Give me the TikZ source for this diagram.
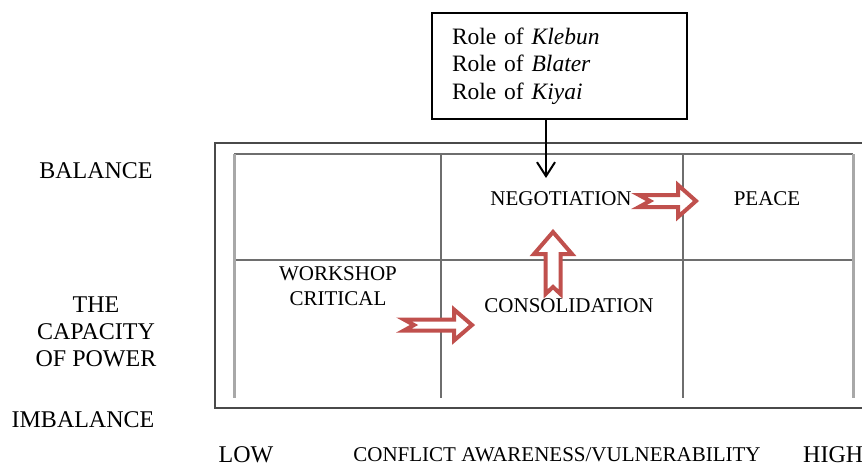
\documentclass[tikz,border=0pt]{standalone}
\usepackage{fontspec}
\setmainfont{Liberation Serif}
\usetikzlibrary{arrows.meta}

\definecolor{arrowred}{HTML}{C0504D}
\definecolor{framegray}{HTML}{4A4A4A}
\definecolor{gridgray}{HTML}{6E6E6E}
\definecolor{sidegray}{HTML}{A8A8A8}

\newcommand{\bigfont}{\fontsize{24}{27}\selectfont}
\newcommand{\cellfont}{\fontsize{21}{25}\selectfont}

\tikzset{
  biglabel/.style={font=\bigfont, inner sep=0pt},
  celllabel/.style={font=\cellfont, inner sep=0pt},
  gridline/.style={draw=gridgray, line width=1.6pt},
  sideline/.style={draw=sidegray, line width=3pt},
  redarrow/.style={draw=arrowred, fill=white, line width=4pt, line join=miter},
  % notched block arrow pointing along +x from its tail:
  % {length}{shaft half width}{head half width}{head length}{notch depth}
  pics/notched/.style n args={5}{code={
    \draw[redarrow, pic actions] (0,-#2) -- ({#1-#4},-#2) -- ({#1-#4},-#3) -- (#1,0)
      -- ({#1-#4},#3) -- ({#1-#4},#2) -- (0,#2) -- (#5,0) -- cycle;
  }},
}

\begin{document}
\begin{tikzpicture}[x=1pt, y=-1pt]
  \useasboundingbox (0,0) rectangle (862,467);
  \clip (0,0) rectangle (862,467);

  % outer frame (runs past the right edge)
  \draw[framegray, line width=1.5pt] (215,143) rectangle (900,408);

  % matrix grid
  \draw[gridline] (234,154) -- (853,154);
  \draw[gridline] (234,260) -- (853,260);
  \draw[sideline] (234,154) -- (234,398);
  \draw[sideline] (853,154) -- (853,398);
  \draw[gridline] (441,154) -- (441,398);
  \draw[gridline] (683,154) -- (683,398);

  % vertical axis labels
  \node[biglabel] (balance) at (96,171) {BALANCE};
  \node[biglabel, align=center] (capacity) at (96,332) {THE\\CAPACITY\\OF POWER};
  \node[biglabel] (imbalance) at (83,420) {IMBALANCE};

  % horizontal axis labels
  \node[biglabel] (low) at (246,455) {LOW};
  \node[celllabel] (awareness) at (557,455) {CONFLICT AWARENESS/VULNERABILITY};
  \node[biglabel, anchor=west] (high) at (803,455) {HIGH};

  % cell labels
  \node[celllabel] (neg) at (561,199) {NEGOTIATION};
  \node[celllabel] (peace) at (767,199) {PEACE};
  \node[celllabel, align=center] (workshop) at (338,286) {WORKSHOP\\CRITICAL};
  \node[celllabel] (consol) at (569,306) {CONSOLIDATION};

  % roles box
  \node[draw=black, line width=2pt, font=\fontsize{23.5}{27.5}\selectfont, align=left,
        minimum width=255pt, minimum height=106pt, text width=215pt,
        inner xsep=20pt, inner ysep=0pt] (roles) at (559.5,66)
        {Role of \textit{Klebun}\\Role of \textit{Blater}\\Role of \textit{Kiyai}};

  \coordinate (negin) at (546,178);
  \draw[black, line width=2pt, -{Straight Barb[length=14pt, width=18pt]}]
    (roles.south -| negin) -- (negin);

  % transitions between cells
  \pic (toconsol) at (404,325) {notched={68}{5.5}{15.5}{18}{10}};
  \pic[rotate=90, line width=5pt] (toneg) at (553,294) {notched={62}{7.5}{19}{22}{7}};
  \pic (topeace) at (639,201) {notched={57}{6}{16}{18}{11}};
\end{tikzpicture}
\end{document}
